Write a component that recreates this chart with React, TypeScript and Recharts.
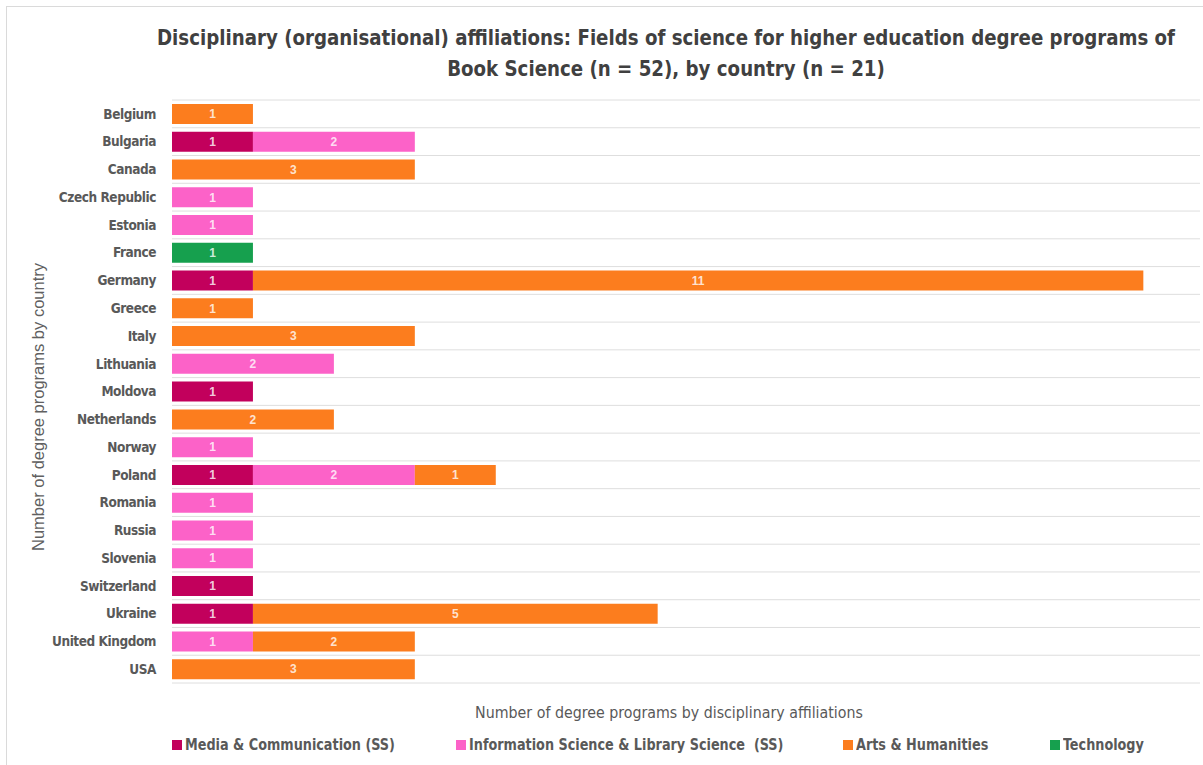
import React from "react";
import {
  BarChart,
  Bar,
  XAxis,
  YAxis,
  CartesianGrid,
  LabelList,
} from "recharts";

const countries = [
  "Belgium",
  "Bulgaria",
  "Canada",
  "Czech Republic",
  "Estonia",
  "France",
  "Germany",
  "Greece",
  "Italy",
  "Lithuania",
  "Moldova",
  "Netherlands",
  "Norway",
  "Poland",
  "Romania",
  "Russia",
  "Slovenia",
  "Switzerland",
  "Ukraine",
  "United Kingdom",
  "USA",
];

// one value per country, null = no segment
const media = [null, 1, null, null, null, null, 1, null, null, null, 1, null, null, 1, null, null, null, 1, 1, null, null];
const infoScience = [null, 2, null, 1, 1, null, null, null, null, 2, null, null, 1, 2, 1, 1, 1, null, null, 1, null];
const arts = [1, null, 3, null, null, null, 11, 1, 3, null, null, 2, null, 1, null, null, null, null, 5, 2, 3];
const technology = [null, null, null, null, null, 1, null, null, null, null, null, null, null, null, null, null, null, null, null, null, null];

const series = [
  { key: "media", name: "Media & Communication (SS)", color: "#C2005C", values: media },
  { key: "info", name: "Information Science & Library Science  (SS)", color: "#FC62C8", values: infoScience },
  { key: "arts", name: "Arts & Humanities", color: "#FC7D1E", values: arts },
  { key: "tech", name: "Technology", color: "#16A04E", values: technology },
];

const titleLines = [
  "Disciplinary (organisational) affiliations: Fields of science for higher education degree programs of",
  "Book Science (n = 52), by country (n = 21)",
];

const data = countries.map((country, i) => {
  const row: Record<string, string | number | null> = { country };
  series.forEach((s) => {
    row[s.key] = s.values[i];
  });
  return row;
});

const narrow = "'Liberation Sans Narrow', 'DejaVu Sans Condensed', 'Arial Narrow', sans-serif";
const regular = "'Liberation Sans', Arial, sans-serif";

const legendX = [172, 456, 843, 1050];

export default function App() {
  return (
    <div
      style={{
        position: "absolute",
        left: 0,
        top: 0,
        width: 1203,
        height: 765,
        background: "#fff",
        overflow: "hidden",
      }}
    >
      {/* chart frame */}
      <div
        style={{
          position: "absolute",
          left: 6,
          top: 6,
          width: 1300,
          height: 900,
          border: "1px solid #dadada",
        }}
      />
      {titleLines.map((line, i) => (
        <div
          key={i}
          style={{
            position: "absolute",
            left: 666,
            top: 22 + i * 31,
            whiteSpace: "nowrap",
            fontFamily: narrow,
            fontWeight: "bold",
            fontSize: 22,
            lineHeight: "31px",
            color: "#404040",
            transform: "translateX(-50%) scaleX(0.92)",
          }}
        >
          {line}
        </div>
      ))}

      <div style={{ position: "absolute", left: 0, top: 0 }}>
        <BarChart
          width={1203}
          height={765}
          data={data}
          layout="vertical"
          margin={{ top: 100, right: 3, bottom: 82, left: 0 }}
          barSize={20}
        >
          <CartesianGrid
            vertical={false}
            stroke="#dedede"
            horizontalCoordinatesGenerator={({ offset }: any) =>
              countries.map((_, i) => offset.top + (i * offset.height) / countries.length).concat(offset.top + offset.height)
            }
          />
          <XAxis type="number" domain={[0, 12.7]} hide />
          <YAxis
            type="category"
            dataKey="country"
            width={172}
            axisLine={false}
            tickLine={false}
            tickSize={6}
            tickMargin={10}
            interval={0}
            tick={{ fontSize: 13.5, fill: "#595959", fontWeight: "bold", fontFamily: narrow, letterSpacing: -0.45 }}
          />
          {series.map((s) => (
            <Bar key={s.key} dataKey={s.key} stackId="a" fill={s.color} isAnimationActive={false}>
              <LabelList
                dataKey={s.key}
                position="center"
                fill="#ffffff"
                fillOpacity={0.8}
                fontSize={12}
                fontWeight="bold"
                fontFamily={regular}
              />
            </Bar>
          ))}
        </BarChart>
      </div>

      <div
        style={{
          position: "absolute",
          left: 38,
          top: 407,
          transform: "translate(-50%, -50%) rotate(-90deg)",
          whiteSpace: "nowrap",
          fontFamily: regular,
          fontSize: 16.5,
          color: "#606060",
        }}
      >
        Number of degree programs by country
      </div>

      <div
        style={{
          position: "absolute",
          left: 169,
          width: 1000,
          top: 703,
          textAlign: "center",
          fontFamily: narrow,
          fontSize: 15.8,
          color: "#595959",
        }}
      >
        Number of degree programs by disciplinary affiliations
      </div>

      {series.map((s, i) => (
        <div
          key={s.key}
          style={{
            position: "absolute",
            left: legendX[i],
            top: 735,
            display: "flex",
            alignItems: "center",
            fontFamily: narrow,
            fontWeight: "bold",
            fontSize: 16,
            color: "#595959",
            whiteSpace: "pre",
          }}
        >
          <span
            style={{ display: "inline-block", width: 10, height: 10, background: s.color, marginRight: 3 }}
          />
          <span style={{ display: "inline-block", transform: "scaleX(0.89)", transformOrigin: "0 50%" }}>
            {s.name}
          </span>
        </div>
      ))}
    </div>
  );
}
